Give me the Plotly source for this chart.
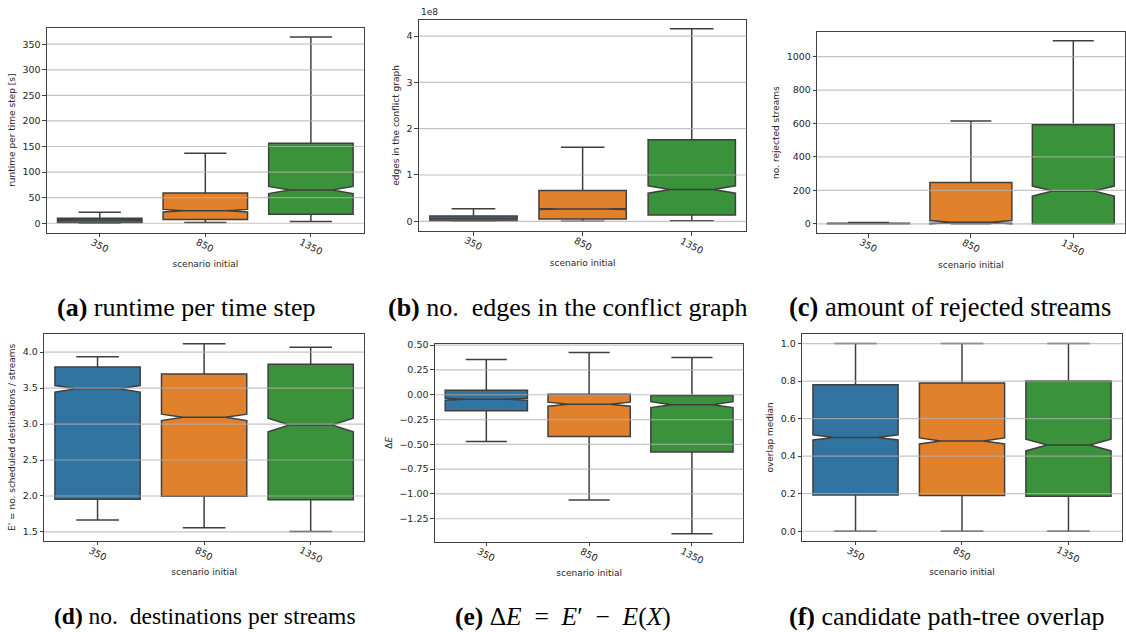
import plotly.graph_objects as go

categories = ["350", "850", "1350"]
colors = ["#3274a1", "#e1812c", "#3a923a"]

# (a) runtime per time step [s]
a_lo = [0.0, 1.5, 3.5]
a_q1 = [1.5, 7.2, 17.5]
a_med = [6.5, 24.6, 65.0]
a_q3 = [9.7, 59.0, 156.6]
a_hi = [21.5, 137.0, 364.0]
a_notch = [1.0, 2.5, 7.0]

# (b) edges in the conflict graph
b_lo = [0.0, 0.0, 0.01e8]
b_q1 = [0.01e8, 0.05e8, 0.137e8]
b_med = [0.058e8, 0.265e8, 0.687e8]
b_q3 = [0.115e8, 0.665e8, 1.76e8]
b_hi = [0.27e8, 1.6e8, 4.16e8]
b_notch = [0.005e8, 0.01e8, 0.08e8]

# (c) no. rejected streams
c_lo = [0.0, 0.0, 0.0]
c_q1 = [0.0, 3.0, 0.0]
c_med = [1.0, 10.0, 196.0]
c_q3 = [4.0, 247.0, 592.0]
c_hi = [8.0, 615.0, 1094.0]
c_notch = [0.5, 10.0, 30.0]

# (d) E' = no. scheduled destinations / streams
d_lo = [1.666, 1.56, 1.508]
d_q1 = [1.956, 1.997, 1.946]
d_med = [3.49, 3.093, 2.986]
d_q3 = [3.793, 3.696, 3.833]
d_hi = [3.935, 4.115, 4.068]
d_notch = [0.045, 0.045, 0.095]

# (e) Delta E
e_lo = [-0.472, -1.06, -1.40]
e_q1 = [-0.161, -0.422, -0.578]
e_med = [-0.045, -0.095, -0.10]
e_q3 = [0.045, 0.005, -0.008]
e_hi = [0.356, 0.426, 0.376]
e_notch = [0.01, 0.02, 0.03]

# (f) overlap median
f_lo = [0.0, 0.0, 0.0]
f_q1 = [0.193, 0.19, 0.187]
f_med = [0.50, 0.481, 0.459]
f_q3 = [0.781, 0.79, 0.80]
f_hi = [1.0, 1.0, 1.0]
f_notch = [0.014, 0.016, 0.031]

y_titles = [
    "runtime per time step [s]",
    "edges in the conflict graph",
    "no. rejected streams",
    "E' = no. scheduled destinations / streams",
    "\u0394<i>E</i>",
    "overlap median",
]
captions = [
    "<b>(a)</b> runtime per time step",
    "<b>(b)</b> no.\u2002edges in the conflict graph",
    "<b>(c)</b> amount of rejected streams",
    "<b>(d)</b> no.\u2002destinations per streams",
    "<b>(e)</b> \u0394<i>E</i>\u2002=\u2002<i>E</i>\u2032\u2002\u2212\u2002<i>E</i>(<i>X</i>)",
    "<b>(f)</b> candidate path-tree overlap",
]
caption_sizes = [26, 26, 26.5, 23.5, 25.5, 26]

panels = [
    (a_lo, a_q1, a_med, a_q3, a_hi, a_notch),
    (b_lo, b_q1, b_med, b_q3, b_hi, b_notch),
    (c_lo, c_q1, c_med, c_q3, c_hi, c_notch),
    (d_lo, d_q1, d_med, d_q3, d_hi, d_notch),
    (e_lo, e_q1, e_med, e_q3, e_hi, e_notch),
    (f_lo, f_q1, f_med, f_q3, f_hi, f_notch),
]

W, H = 1126, 632
# pixel boxes (left, right, top, bottom)
boxes = [
    (47, 364, 24, 230),
    (419.3, 747, 15.7, 228.7),
    (818, 1125.5, 28, 230.7),
    (44.3, 364.3, 332.3, 540),
    (435.3, 744, 341.7, 541.3),
    (803, 1122.7, 332.3, 540),
]
y_ranges = [
    [-18.2, 382],
    [-0.215e8, 4.356e8],
    [-56, 1148],
    [1.38, 4.249],
    [-1.483, 0.516],
    [-0.0497, 1.0497],
]
y_ticks = [
    [0, 50, 100, 150, 200, 250, 300, 350],
    [0, 1e8, 2e8, 3e8, 4e8],
    [0, 200, 400, 600, 800, 1000],
    [1.5, 2.0, 2.5, 3.0, 3.5, 4.0],
    [-1.25, -1.0, -0.75, -0.5, -0.25, 0.0, 0.25, 0.5],
    [0.0, 0.2, 0.4, 0.6, 0.8, 1.0],
]
y_ticktext = [
    [str(v) for v in y_ticks[0]],
    ["0", "1", "2", "3", "4"],
    [str(v) for v in y_ticks[2]],
    ["%.1f" % v for v in y_ticks[3]],
    [("%.2f" % v).replace("-", "\u2212") for v in y_ticks[4]],
    ["%.1f" % v for v in y_ticks[5]],
]
caption_pos = [(187, 305), (569, 305), (951, 305), (205, 616), (563, 616), (947, 616)]

fig = go.Figure()
tick_font = dict(family="DejaVu Sans", size=9.5, color="#262626")
title_font = dict(family="DejaVu Sans", size=9, color="#262626")
frame = "#404040"
grid_col = "rgba(176,176,176,0.75)"

layout = dict(
    width=W, height=H, margin=dict(l=0, r=0, t=0, b=0),
    paper_bgcolor="white", plot_bgcolor="white", showlegend=False,
    boxmode="overlay",
)
shapes = []
annotations = []
for i, (stats, bx) in enumerate(zip(panels, boxes)):
    n = i + 1
    xa = "x" if n == 1 else "x%d" % n
    ya = "y" if n == 1 else "y%d" % n
    lo, q1, med, q3, hi, nt = stats
    for j, cat in enumerate(categories):
        fig.add_trace(go.Box(
            x=[cat], q1=[q1[j]], median=[med[j]], q3=[q3[j]],
            lowerfence=[lo[j]], upperfence=[hi[j]], notchspan=[nt[j]],
            notched=True, notchwidth=0.25, width=0.8, whiskerwidth=0.5,
            fillcolor=colors[j], line=dict(color="#3f3f3f", width=1.5),
            boxpoints=False, xaxis=xa, yaxis=ya, hoverinfo="skip",
        ))
        # centred, rotated category label (matplotlib style)
        annotations.append(dict(
            text=cat, xref=xa, yref=ya + " domain", x=j, y=0,
            xanchor="center", yanchor="top", yshift=-1, textangle=27,
            showarrow=False, font=tick_font,
        ))
    l, r, t, b = bx
    layout["xaxis" if n == 1 else "xaxis%d" % n] = dict(
        domain=[l / W, r / W], anchor=ya, type="category",
        categoryorder="array", categoryarray=categories, range=[-0.5, 2.5],
        showline=True, mirror=True, linecolor=frame, linewidth=1,
        ticks="outside", ticklen=3.5, tickcolor=frame,
        showticklabels=False, showgrid=False, zeroline=False,
        title=dict(text="scenario initial", font=title_font, standoff=24),
    )
    layout["yaxis" if n == 1 else "yaxis%d" % n] = dict(
        domain=[1 - b / H, 1 - t / H], anchor=xa, range=y_ranges[i],
        showline=True, mirror=True, linecolor=frame, linewidth=1,
        ticks="outside", ticklen=3.5, tickcolor=frame,
        tickvals=y_ticks[i], ticktext=y_ticktext[i], tickfont=tick_font,
        showgrid=False, zeroline=False,
        title=dict(text=y_titles[i], font=title_font, standoff=5),
    )
    for v in y_ticks[i]:
        shapes.append(dict(
            type="line", xref=xa + " domain", yref=ya, x0=0, x1=1, y0=v, y1=v,
            line=dict(color=grid_col, width=1.2), layer="above",
        ))
    cx, cy = caption_pos[i]
    annotations.append(dict(
        text=captions[i], xref="paper", yref="paper", x=cx / W, y=1 - cy / H,
        xanchor="center", yanchor="middle", showarrow=False,
        font=dict(family="Liberation Serif", size=caption_sizes[i], color="black"),
    ))

annotations.append(dict(
    text="1e8", xref="x2 domain", yref="y2 domain", x=0, y=1,
    xanchor="left", yanchor="bottom", showarrow=False, yshift=1,
    font=dict(family="DejaVu Sans", size=9, color="#262626"),
))
layout["shapes"] = shapes
layout["annotations"] = annotations
fig.update_layout(**layout)
fig.write_html("out.html")
